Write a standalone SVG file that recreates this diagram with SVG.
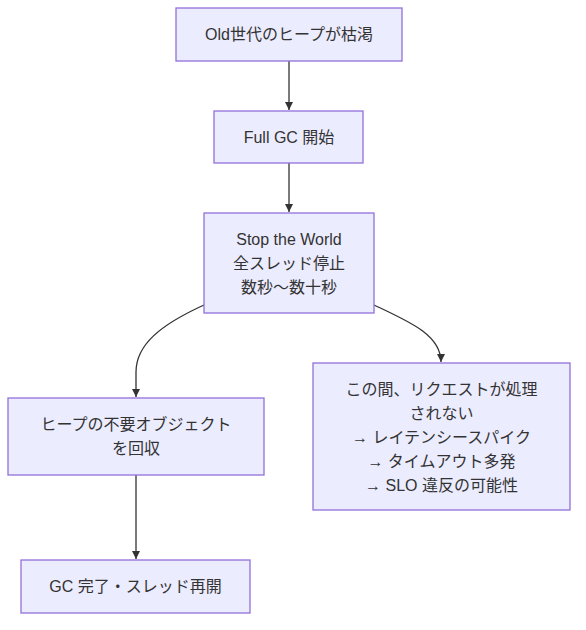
<svg xmlns="http://www.w3.org/2000/svg" width="586" height="630" viewBox="0 0 586 630">
<style>
.node rect{fill:#ECECFF;stroke:#9370DB;stroke-width:1.3}
text{font-family:"Liberation Sans","Noto Sans CJK JP",sans-serif;font-size:16px;fill:#333;text-anchor:middle;dominant-baseline:central}
.edge{fill:none;stroke:#333;stroke-width:1.3;marker-end:url(#arr)}
</style>
<defs>
<marker id="arr" viewBox="0 0 10 10" refX="10" refY="5" markerWidth="8" markerHeight="8" markerUnits="userSpaceOnUse" orient="auto">
<path d="M0,0 L10,5 L0,10 z" fill="#333"/>
</marker>
</defs>
<rect width="586" height="630" fill="#fff"/>
<g id="edges">
<path class="edge" d="M289,61 L289,110"/>
<path class="edge" d="M289,163 L289,212"/>
<path class="edge" d="M204,305 C160,325 136,345 136,372 L136,397"/>
<path class="edge" d="M374,305 C410,322 441,335 441,362"/>
<path class="edge" d="M136,475 L136,559"/>
</g>
<g id="n1" class="node"><rect x="176" y="8" width="226" height="53"/><text x="289" y="34.5">Old世代のヒープが枯渇</text></g>
<g id="n2" class="node"><rect x="214" y="111" width="149" height="52"/><text x="289" y="137">Full GC 開始</text></g>
<g id="n3" class="node"><rect x="204" y="213" width="170" height="100"/><text x="289" y="239">Stop the World</text><text x="289" y="263">全スレッド停止</text><text x="289" y="287">数秒〜数十秒</text></g>
<g id="n4" class="node"><rect x="8" y="398" width="256" height="77"/><text x="136" y="424">ヒープの不要オブジェクト</text><text x="136" y="448">を回収</text></g>
<g id="n5" class="node"><rect x="21" y="560" width="229" height="53"/><text x="135.5" y="586.5">GC 完了・スレッド再開</text></g>
<g id="n6" class="node"><rect x="313" y="363" width="257" height="147"/><text x="441.5" y="389">この間、リクエストが処理</text><text x="441.5" y="413">されない</text><text x="441.5" y="437">→ レイテンシースパイク</text><text x="441.5" y="461">→ タイムアウト多発</text><text x="441.5" y="485">→ SLO 違反の可能性</text></g>
</svg>
